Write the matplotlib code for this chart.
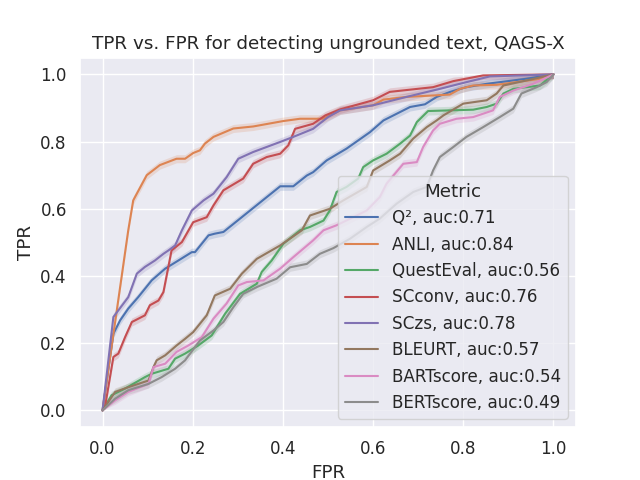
import matplotlib
matplotlib.use("Agg")
import matplotlib.pyplot as plt
import seaborn as sns

# ROC points (fpr, tpr) per metric
q2_fpr = [0.0, 0.024, 0.039, 0.057, 0.079, 0.109, 0.139, 0.168, 0.198, 0.205, 0.235, 0.249, 0.268,
          0.394, 0.423, 0.453, 0.467, 0.497, 0.541, 0.593, 0.623, 0.682, 0.715, 0.741, 0.771, 0.807,
          0.852, 0.94, 1.0]
q2_tpr = [0.0, 0.228, 0.268, 0.303, 0.337, 0.387, 0.422, 0.446, 0.471, 0.471, 0.521, 0.526, 0.531,
          0.667, 0.667, 0.699, 0.709, 0.744, 0.779, 0.828, 0.863, 0.903, 0.911, 0.933, 0.948, 0.962,
          0.972, 0.987, 1.0]

anli_fpr = [0.0, 0.002, 0.057, 0.068, 0.098, 0.127, 0.164, 0.183, 0.201, 0.216, 0.227, 0.246, 0.29,
            0.334, 0.40, 0.438, 0.489, 0.527, 0.60, 0.623, 0.674, 0.77, 0.793, 0.822, 0.874, 0.918,
            0.97, 1.0]
anli_tpr = [0.0, 0.02, 0.536, 0.625, 0.70, 0.73, 0.749, 0.749, 0.766, 0.774, 0.794, 0.814, 0.839,
            0.845, 0.861, 0.868, 0.868, 0.893, 0.908, 0.925, 0.933, 0.94, 0.957, 0.967, 0.969, 0.977,
            0.987, 1.0]

questeval_fpr = [0.0, 0.02, 0.05, 0.094, 0.109, 0.146, 0.161, 0.183, 0.212, 0.242, 0.272, 0.305,
                 0.342, 0.353, 0.375, 0.401, 0.438, 0.46, 0.49, 0.504, 0.519, 0.541, 0.567, 0.578,
                 0.6, 0.63, 0.66, 0.682, 0.697, 0.722, 0.822, 0.852, 0.874, 0.889, 0.911, 0.97, 1.0]
questeval_tpr = [0.0, 0.045, 0.065, 0.099, 0.109, 0.124, 0.154, 0.169, 0.193, 0.223, 0.288, 0.347,
                 0.377, 0.412, 0.446, 0.496, 0.536, 0.546, 0.565, 0.595, 0.65, 0.665, 0.69, 0.724,
                 0.744, 0.764, 0.794, 0.818, 0.858, 0.891, 0.895, 0.903, 0.913, 0.943, 0.957, 0.967, 1.0]

scconv_fpr = [0.0, 0.006, 0.024, 0.035, 0.05, 0.065, 0.094, 0.105, 0.124, 0.135, 0.153, 0.176, 0.201,
              0.231, 0.246, 0.268, 0.312, 0.334, 0.364, 0.394, 0.412, 0.427, 0.467, 0.494, 0.527,
              0.60, 0.637, 0.733, 0.778, 0.844, 1.0]
scconv_tpr = [0.0, 0.015, 0.159, 0.169, 0.218, 0.263, 0.283, 0.313, 0.327, 0.352, 0.476, 0.501, 0.56,
              0.575, 0.61, 0.655, 0.69, 0.734, 0.754, 0.764, 0.789, 0.838, 0.853, 0.878, 0.896,
              0.923, 0.948, 0.962, 0.98, 0.997, 1.0]

sczs_fpr = [0.0, 0.024, 0.057, 0.076, 0.094, 0.116, 0.135, 0.146, 0.161, 0.176, 0.198, 0.224, 0.246,
            0.275, 0.301, 0.334, 0.394, 0.423, 0.467, 0.5, 0.527, 0.60, 0.674, 0.748, 0.807, 0.859, 1.0]
sczs_tpr = [0.0, 0.278, 0.337, 0.407, 0.427, 0.446, 0.466, 0.476, 0.491, 0.536, 0.595, 0.625, 0.645,
            0.694, 0.749, 0.769, 0.799, 0.814, 0.838, 0.873, 0.893, 0.908, 0.933, 0.957, 0.977, 0.994, 1.0]

bleurt_fpr = [0.0, 0.028, 0.057, 0.102, 0.113, 0.12, 0.139, 0.164, 0.183, 0.201, 0.231, 0.249, 0.283,
              0.309, 0.342, 0.394, 0.442, 0.46, 0.504, 0.534, 0.586, 0.6, 0.637, 0.66, 0.689, 0.719,
              0.741, 0.756, 0.8, 0.852, 0.874, 0.889, 0.94, 1.0]
bleurt_tpr = [0.0, 0.055, 0.069, 0.089, 0.129, 0.149, 0.164, 0.193, 0.213, 0.233, 0.283, 0.342, 0.362,
              0.407, 0.451, 0.491, 0.536, 0.58, 0.6, 0.625, 0.665, 0.714, 0.744, 0.764, 0.809, 0.843,
              0.863, 0.878, 0.913, 0.923, 0.943, 0.967, 0.982, 1.0]

bartscore_fpr = [0.0, 0.028, 0.057, 0.102, 0.113, 0.139, 0.164, 0.19, 0.22, 0.246, 0.275, 0.301, 0.32,
                 0.357, 0.394, 0.423, 0.467, 0.49, 0.519, 0.556, 0.586, 0.615, 0.63, 0.667, 0.697,
                 0.711, 0.733, 0.748, 0.785, 0.822, 0.866, 0.881, 0.911, 0.955, 1.0]
bartscore_tpr = [0.0, 0.03, 0.055, 0.079, 0.129, 0.139, 0.174, 0.193, 0.218, 0.273, 0.318, 0.372, 0.382,
                 0.387, 0.422, 0.456, 0.506, 0.536, 0.551, 0.575, 0.595, 0.635, 0.675, 0.734, 0.739,
                 0.784, 0.833, 0.853, 0.868, 0.873, 0.893, 0.933, 0.952, 0.972, 1.0]

bertscore_fpr = [0.0, 0.028, 0.057, 0.102, 0.131, 0.161, 0.183, 0.216, 0.246, 0.268, 0.29, 0.312,
                 0.342, 0.386, 0.416, 0.453, 0.482, 0.512, 0.549, 0.586, 0.615, 0.652, 0.689, 0.719,
                 0.733, 0.748, 0.778, 0.807, 0.844, 0.881, 0.911, 0.929, 0.963, 0.985, 1.0]
bertscore_tpr = [0.0, 0.035, 0.06, 0.079, 0.099, 0.124, 0.149, 0.208, 0.238, 0.263, 0.307, 0.347,
                 0.367, 0.392, 0.426, 0.436, 0.466, 0.483, 0.511, 0.546, 0.571, 0.615, 0.65, 0.665,
                 0.714, 0.754, 0.784, 0.814, 0.843, 0.873, 0.898, 0.943, 0.962, 0.977, 1.0]

metrics = ["Q²", "ANLI", "QuestEval", "SCconv", "SCzs", "BLEURT", "BARTscore", "BERTscore"]
aucs = [0.71, 0.84, 0.56, 0.76, 0.78, 0.57, 0.54, 0.49]
curves = [(q2_fpr, q2_tpr), (anli_fpr, anli_tpr), (questeval_fpr, questeval_tpr),
          (scconv_fpr, scconv_tpr), (sczs_fpr, sczs_tpr), (bleurt_fpr, bleurt_tpr),
          (bartscore_fpr, bartscore_tpr), (bertscore_fpr, bertscore_tpr)]

sns.set_theme(font_scale=1.1)
colors = sns.color_palette()

fig, ax = plt.subplots(figsize=(6.4, 4.8), dpi=100)
for i, (fpr, tpr) in enumerate(curves):
    # light band like seaborn's ci, kept inside [0, 1]
    lo = [max(t - 0.012, 0.0) for t in tpr]
    hi = [min(t + 0.012, 1.0) for t in tpr]
    ax.fill_between(fpr, lo, hi, color=colors[i], alpha=0.2, linewidth=0)
    ax.plot(fpr, tpr, color=colors[i], linewidth=1.5,
            label="%s, auc:%.2f" % (metrics[i], aucs[i]))

ax.set_xlabel("FPR")
ax.set_ylabel("TPR")
ax.set_title("TPR vs. FPR for detecting ungrounded text, QAGS-X")
ax.legend(title="Metric", loc="lower right")
plt.savefig("out.png")
